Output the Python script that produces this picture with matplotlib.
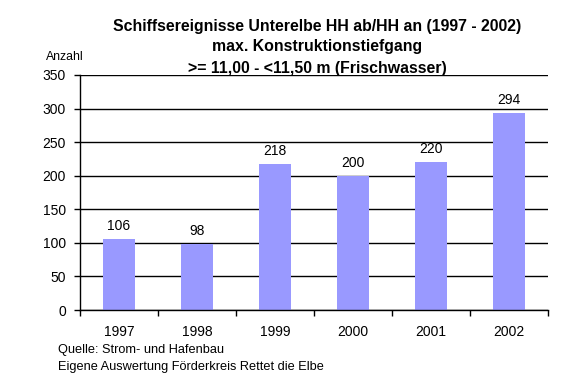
import matplotlib
matplotlib.use("Agg")
import matplotlib.pyplot as plt
import numpy as np

years = ["1997", "1998", "1999", "2000", "2001", "2002"]
values = [106, 98, 218, 200, 220, 294]
yticks = [0, 50, 100, 150, 200, 250, 300, 350]

plt.rcParams['font.family'] = ['Liberation Sans', 'DejaVu Sans']

W, H = 587, 386
fig = plt.figure(figsize=(W/100, H/100), dpi=100)
fig.patch.set_facecolor('white')
L, R, T, B = 80, 548, 75, 310
ax = fig.add_axes([L/W, 1-B/H, (R-L)/W, (B-T)/H])

x = np.arange(len(years))
ax.bar(x, values, width=0.41, color='#9999FF', zorder=3)
for xi, v in zip(x, values):
    ax.text(xi, v + 9, str(v), ha='center', va='bottom', fontsize=10)

ax.set_xlim(-0.5, len(years) - 0.5)
ax.set_ylim(0, 350)
ax.set_yticks(yticks)
ax.set_yticklabels([str(t) for t in yticks], fontsize=10)
ax.set_xticks(np.arange(-0.5, len(years)), minor=False)
ax.set_xticklabels([])
ax.set_xticks(x, minor=True)
ax.set_xticklabels(years, minor=True, fontsize=10)
ax.tick_params(axis='x', which='minor', length=0, pad=11)
ax.tick_params(axis='x', which='major', length=4, direction='out', width=1)
ax.tick_params(axis='y', length=4, direction='out', width=1, pad=6)
ax.yaxis.grid(True, color='black', linewidth=1, zorder=1)
for s in ['top', 'right']:
    ax.spines[s].set_visible(False)
ax.spines['left'].set_linewidth(1)
ax.spines['bottom'].set_linewidth(1)
ax.spines['bottom'].set_zorder(4)

cx = 317.5 / W
fig.text(cx, 1-27/H, "Schiffsereignisse Unterelbe HH ab/HH an (1997 - 2002)",
         ha='center', va='center', fontsize=11.4, fontweight='bold')
fig.text(cx, 1-47/H, "max. Konstruktionstiefgang",
         ha='center', va='center', fontsize=11.4, fontweight='bold')
fig.text(cx, 1-68/H, ">= 11,00 - <11,50 m (Frischwasser)",
         ha='center', va='center', fontsize=11.4, fontweight='bold')
fig.text(46/W, 1-57/H, "Anzahl", ha='left', va='center', fontsize=8.8)
fig.text(58/W, 1-350/H, "Quelle: Strom- und Hafenbau", ha='left', va='center', fontsize=9.2)
fig.text(58/W, 1-367/H, "Eigene Auswertung Förderkreis Rettet die Elbe", ha='left', va='center', fontsize=9.2)

fig.savefig("out.png", dpi=100, facecolor='white')
